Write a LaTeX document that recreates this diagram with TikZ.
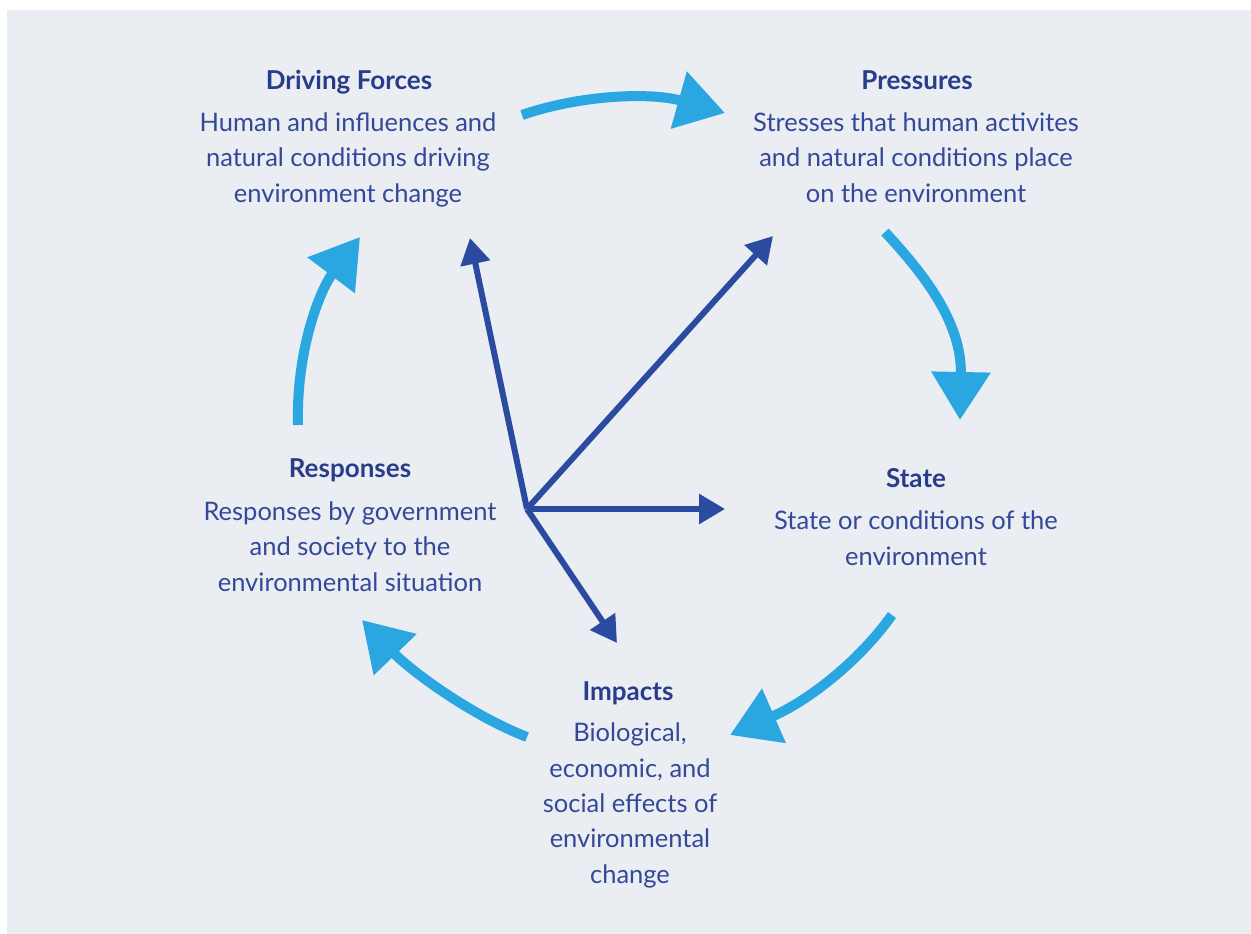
\documentclass[tikz,border=0pt]{standalone}
\usepackage{fontspec}
\setmainfont{Lato}
\usetikzlibrary{arrows.meta}
\definecolor{bg}{HTML}{EAEDF2}
\definecolor{navy}{HTML}{283C8C}
\definecolor{bodyblue}{HTML}{34489A}
\definecolor{cyclecol}{HTML}{2AA6E0}
\definecolor{linkcol}{HTML}{2A4BA0}
\begin{document}
\begin{tikzpicture}[x=1pt,y=-1pt,
  title/.style={anchor=base, text=navy, font=\fontsize{26}{30}\selectfont\bfseries, inner sep=0pt},
  % anchor=base of a multi-line body sits on its last line
  body/.style={anchor=base, text=bodyblue, align=center, font=\fontsize{25.5}{35.3}\selectfont, inner sep=0pt},
  cyclearrow/.style={draw=cyclecol, line width=10pt, -{Triangle[length=48pt,width=57pt]}},
  linkarrow/.style={draw=linkcol, line width=6pt, -{Triangle[length=26pt,width=29pt]}}]

\useasboundingbox (0,0) rectangle (1251,934);
\fill[white] (0,0) rectangle (1251,934);
\fill[bg] (7,10) rectangle (1251,934);

% stage labels
\node[title] (dfT) at (349,90) {Driving Forces};
\node[body]  (dfB) at (348,202) {Human and influences and\\natural conditions driving\\environment change};

\node[title] (prT) at (917,89) {Pressures};
\node[body]  (prB) at (916,202) {Stresses that human activites\\and natural conditions place\\on the environment};

\node[title] (stT) at (916,487) {State};
\node[body]  (stB) at (916,565) {State or conditions of the\\environment};

\node[title] (reT) at (350,477) {Responses};
\node[body]  (reB) at (350,591) {Responses by government\\and society to the\\environmental situation};

\node[title] (imT) at (628,700) {Impacts};
\node[body]  (imB) at (630,883) {Biological,\\economic, and\\social effects of\\environmental\\change};

% cycle arrows between the stages
\coordinate (c1s) at (522,115);  \coordinate (c1e) at (725,113);
\coordinate (c2s) at (885,232);  \coordinate (c2e) at (960,420);
\coordinate (c3s) at (892,615);  \coordinate (c3e) at (730,735);
\coordinate (c4s) at (527,737);  \coordinate (c4e) at (362,620);
\coordinate (c5s) at (298,425);  \coordinate (c5e) at (360,237);

\draw[cyclearrow] (c1s) .. controls (580,95) and (650,92) .. (c1e);
\draw[cyclearrow] (c2s) .. controls (920,270) and (962,320) .. (c2e);
\draw[cyclearrow] (c3s) .. controls (860,660) and (810,700) .. (c3e);
\draw[cyclearrow] (c4s) .. controls (470,715) and (410,670) .. (c4e);
\draw[cyclearrow] (c5s) .. controls (296,350) and (320,290) .. (c5e);

% links from the responses hub
\coordinate (hub) at (527,509);
\coordinate (toDF) at (470,238);
\coordinate (toPR) at (773,236);
\coordinate (toST) at (725,509);
\coordinate (toIM) at (617,643);
\draw[linkarrow] (hub) -- (toDF);
\draw[linkarrow] (hub) -- (toPR);
\draw[linkarrow] (hub) -- (toST);
\draw[linkarrow] (hub) -- (toIM);
\end{tikzpicture}
\end{document}
